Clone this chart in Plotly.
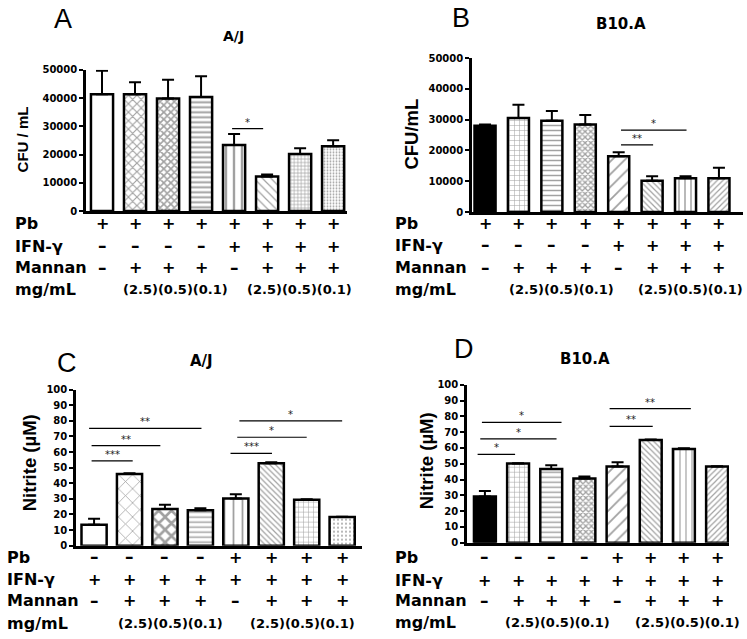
import plotly.graph_objects as go

# ---------------- data ----------------
groups = ["G1", "G2", "G3", "G4", "G5", "G6", "G7", "G8"]

cfu_aj_mean = [41300, 41300, 39800, 40400, 23400, 12200, 20200, 22900]
cfu_aj_err = [8400, 4300, 6700, 7300, 3900, 700, 2000, 2200]
cfu_b10_mean = [28000, 30500, 29600, 28400, 18100, 10200, 11000, 11000]
cfu_b10_err = [400, 4300, 3200, 3100, 1300, 1400, 600, 3400]
no_aj_mean = [13.4, 46.0, 23.5, 22.7, 30.3, 52.9, 29.4, 18.3]
no_aj_err = [3.8, 0.4, 2.8, 1.3, 2.7, 0.5, 0.4, 0.2]
no_b10_mean = [29.2, 50.1, 46.6, 40.6, 48.2, 65.0, 59.4, 48.2]
no_b10_err = [3.5, 0.2, 2.5, 1.4, 2.7, 0.4, 0.4, 0.2]

row_labels = ["Pb", "IFN-γ", "Mannan", "mg/mL"]
cfu_pb = ["+", "+", "+", "+", "+", "+", "+", "+"]
cfu_ifn = ["–", "–", "–", "–", "+", "+", "+", "+"]
no_pb = ["–", "–", "–", "–", "+", "+", "+", "+"]
no_ifn = ["+", "+", "+", "+", "+", "+", "+", "+"]
mannan = ["–", "+", "+", "+", "–", "+", "+", "+"]
conc_text = "(2.5)(0.5)(0.1)"

cfu_ticks = [0, 10000, 20000, 30000, 40000, 50000]
no_ticks = [0, 10, 20, 30, 40, 50, 60, 70, 80, 90, 100]

# significance: (from group, to group, height, label)
sig_a = [(3.94, 4.88, 29200, "*")]
sig_b = [(4.07, 5.03, 21800, "**"), (4.07, 6.03, 26600, "*")]
sig_c = [(-0.07, 1.09, 54.4, "***"), (-0.07, 1.87, 64.1, "**"), (-0.14, 3.03, 75.2, "**"),
         (3.85, 5.02, 59.2, "***"), (4.04, 6.0, 69.5, "*"), (4.1, 7.0, 80.0, "*")]
sig_d = [(-0.22, 0.91, 55.9, "*"), (-0.14, 2.16, 65.8, "*"), (-0.09, 2.31, 76.2, "*"),
         (3.76, 5.06, 73.7, "**"), (3.76, 6.21, 84.9, "**")]

W, H = 747, 639
def px(x):
    return x / W
def py(y):
    return 1 - y / H

BOLD = "DejaVu Sans"
ARIAL = "Liberation Sans, Arial"

fig = go.Figure()

panels = [
    dict(ax="", mean=cfu_aj_mean, err=cfu_aj_err,
         colors=["white"] * 8,
         shapes=["", "x", "x", "-", "|", "\\", "+", "."],
         sizes=[6, 6, 5, 5, 8, 6, 3.5, 3],
         sol=[0.3, 0.35, 0.55, 0.4, 0.3, 0.2, 0.35, 0.3],
         width=0.67, xdom=[px(86), px(347)], ydom=[py(209), py(65)],
         xr=[-0.485, 7.42], yr=[0, 50000], ticks=cfu_ticks,
         rows=[cfu_pb, cfu_ifn, mannan], rowy=[222, 245, 267, 289], labx=13,
         conc_x=[2.24, 5.97], sig=sig_a, letter="A", letter_xy=(63, 13),
         title="A/J", title_xy=(233, 31), title_size=14,
         ytitle="CFU / mL", ytitle_xy=(22, 136), ytitle_size=15),
    dict(ax="2", mean=cfu_b10_mean, err=cfu_b10_err,
         colors=["black"] + ["white"] * 7,
         shapes=["", "+", "-", "x", "/", "\\", "|", "/"],
         sizes=[6, 5, 5, 4, 9, 4, 6, 4],
         sol=[0.3, 0.2, 0.3, 0.55, 0.2, 0.3, 0.25, 0.3],
         width=0.63, xdom=[px(472), px(743)], ydom=[py(210), py(53)],
         xr=[-0.39, 7.72], yr=[0, 50000], ticks=cfu_ticks,
         rows=[cfu_pb, cfu_ifn, mannan], rowy=[222, 244, 267, 289], labx=393,
         conc_x=[2.3, 6.14], sig=sig_b, letter="B", letter_xy=(461, 12),
         title="B10.A", title_xy=(621, 18), title_size=15,
         ytitle="CFU/mL", ytitle_xy=(412, 131), ytitle_size=18.5),
    dict(ax="3", mean=no_aj_mean, err=no_aj_err,
         colors=["white"] * 8,
         shapes=["", "x", "x", "-", "|", "\\", "+", "."],
         sizes=[6, 10, 9, 5, 9, 4, 5, 4],
         sol=[0.3, 0.15, 0.5, 0.3, 0.2, 0.3, 0.2, 0.2],
         width=0.71, xdom=[px(76), px(362)], ydom=[py(550), py(391)],
         xr=[-0.51, 7.56], yr=[0, 100], ticks=no_ticks,
         rows=[no_pb, no_ifn, mannan], rowy=[562, 584, 606, 629], labx=5,
         conc_x=[2.15, 5.87], sig=sig_c, letter="C", letter_xy=(67, 364),
         title="A/J", title_xy=(202, 362), title_size=15,
         ytitle="Nitrite (µM)", ytitle_xy=(29, 465), ytitle_size=18.5),
    dict(ax="4", mean=no_b10_mean, err=no_b10_err,
         colors=["black"] + ["white"] * 7,
         shapes=["", "+", "-", "x", "/", "\\", "|", "/"],
         sizes=[6, 5, 5, 4, 9, 4, 6, 4],
         sol=[0.3, 0.2, 0.3, 0.55, 0.2, 0.3, 0.2, 0.3],
         width=0.66, xdom=[px(467), px(729)], ydom=[py(547), py(386)],
         xr=[-0.54, 7.36], yr=[0, 100], ticks=no_ticks,
         rows=[no_pb, no_ifn, mannan], rowy=[562, 585, 606, 628], labx=393,
         conc_x=[2.2, 6.1], sig=sig_d, letter="D", letter_xy=(464, 350),
         title="B10.A", title_xy=(585, 360), title_size=15,
         ytitle="Nitrite (µM)", ytitle_xy=(426, 464), ytitle_size=18.5),
]

annotations = []
shapes = []
layout_axes = {}

for p in panels:
    ax = p["ax"]
    xname = "x" + ax
    yname = "y" + ax
    idx = list(range(len(groups)))
    fig.add_trace(go.Bar(
        x=idx, y=p["mean"], width=p["width"], xaxis=xname, yaxis=yname,
        marker=dict(color=p["colors"], line=dict(color="black", width=2.5),
                    pattern=dict(shape=p["shapes"], size=p["sizes"], solidity=p["sol"],
                                 fgcolor="black", fillmode="overlay")),
        error_y=dict(type="data", symmetric=False, array=p["err"],
                     arrayminus=[0] * len(groups), color="black", thickness=2, width=6),
        showlegend=False, hoverinfo="skip"))

    key = ax if ax else ""
    layout_axes["xaxis" + key] = dict(
        domain=p["xdom"], range=p["xr"], anchor=yname, showline=True, linecolor="black",
        linewidth=2.5, showticklabels=False, ticks="", showgrid=False, zeroline=False,
        fixedrange=True)
    layout_axes["yaxis" + key] = dict(
        domain=p["ydom"], range=p["yr"], anchor=xname, showline=True, linecolor="black",
        linewidth=2.5, ticks="outside", ticklen=4, tickwidth=2, tickcolor="black",
        tickvals=p["ticks"], ticktext=["<b>%d</b>" % t for t in p["ticks"]],
        tickfont=dict(family=BOLD, size=10, color="black"),
        showgrid=False, zeroline=False, fixedrange=True)

    # condition table rows
    for r, lab in enumerate(row_labels):
        annotations.append(dict(x=px(p["labx"]), y=py(p["rowy"][r]), xref="paper", yref="paper",
                                text="<b>%s</b>" % lab, showarrow=False, xanchor="left", yanchor="middle",
                                font=dict(family=BOLD, size=16, color="black")))
    for r, row in enumerate(p["rows"]):
        for i, sym in enumerate(row):
            annotations.append(dict(x=i, y=py(p["rowy"][r]), xref=xname, yref="paper",
                                    text="<b>%s</b>" % sym, showarrow=False, xanchor="center",
                                    yanchor="middle",
                                    font=dict(family=BOLD, size=16 if sym == "+" else 17,
                                              color="black")))
    for cx in p["conc_x"]:
        annotations.append(dict(x=cx, y=py(p["rowy"][3]), xref=xname, yref="paper",
                                text="<b>%s</b>" % conc_text, showarrow=False, xanchor="center",
                                yanchor="middle",
                                font=dict(family=BOLD, size=13, color="black")))

    # significance brackets
    for (a, b, h, lab) in p["sig"]:
        shapes.append(dict(type="line", x0=a, x1=b, y0=h, y1=h, xref=xname, yref=yname,
                           line=dict(color="black", width=1.2)))
        annotations.append(dict(x=(a + b) / 2, y=h, xref=xname, yref=yname, text=lab,
                                showarrow=False, xanchor="center", yanchor="bottom", yshift=-1,
                                font=dict(family=BOLD, size=10, color="#222222")))

    # letters, titles, y titles
    lx, ly = p["letter_xy"]
    annotations.append(dict(x=px(lx), y=py(ly), xref="paper", yref="paper", text=p["letter"],
                            showarrow=False, xanchor="center", yanchor="middle",
                            font=dict(family=ARIAL, size=27, color="black")))
    tx, ty = p["title_xy"]
    annotations.append(dict(x=px(tx), y=py(ty), xref="paper", yref="paper",
                            text="<b>%s</b>" % p["title"],
                            showarrow=False, xanchor="center", yanchor="middle",
                            font=dict(family=BOLD, size=p["title_size"], color="black")))
    yx, yy = p["ytitle_xy"]
    annotations.append(dict(x=px(yx), y=py(yy), xref="paper", yref="paper",
                            text="<b>%s</b>" % p["ytitle"],
                            showarrow=False, xanchor="center", yanchor="middle", textangle=-90,
                            font=dict(family=ARIAL, size=p["ytitle_size"], color="black")))

fig.update_layout(
    width=W, height=H, margin=dict(l=0, r=0, t=0, b=0),
    paper_bgcolor="white", plot_bgcolor="white",
    annotations=annotations, shapes=shapes, **layout_axes)

fig.write_html("out.html", config={"displayModeBar": False},
               post_script="document.body.style.margin='0';")
